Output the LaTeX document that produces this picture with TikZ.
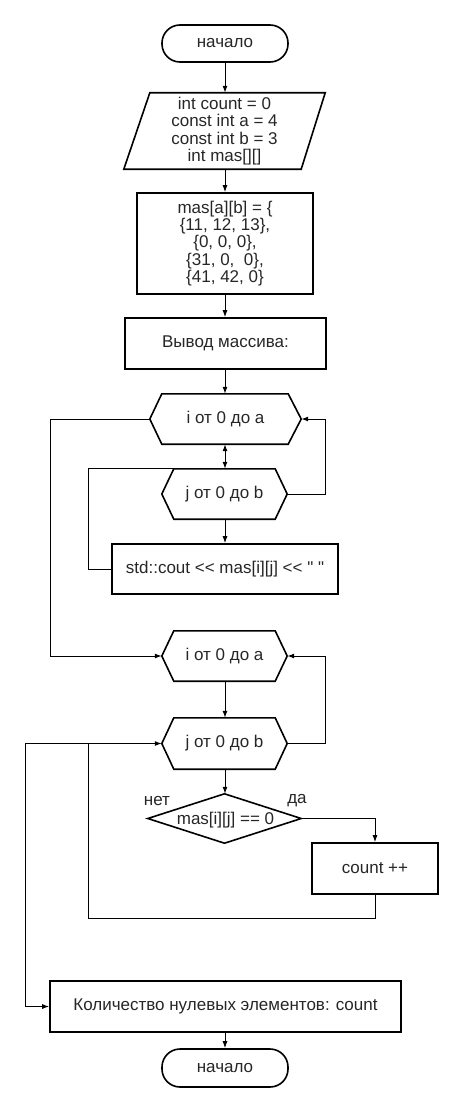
\documentclass[tikz,border=0pt]{standalone}
\usepackage{fontspec}
\setmainfont{Liberation Sans}[Ligatures=TeXOff]
\usetikzlibrary{calc,arrows.meta}
\begin{document}
\begin{tikzpicture}[x=1pt,y=-1pt,
  txt/.style={font=\fontsize{17}{17.3}\selectfont, text=black!85},
  box/.style={draw, line width=1.6pt, inner sep=0pt, align=center, txt},
  ghost/.style={draw=none, inner sep=0pt, align=center, txt},
  shp/.style={draw, line width=1.6pt, line join=miter},
  term/.style={box, rounded corners=18pt},
  conn/.style={line width=1pt},
  arr/.style={conn, -{Latex[length=7pt,width=5pt]}},
  darr/.style={conn, {Latex[length=7pt,width=5pt]}-{Latex[length=7pt,width=5pt]}}
]
\useasboundingbox (0,0) rectangle (463,1113);

% nodes
\node[term, minimum width=126pt, minimum height=37pt] (start) at (225,43.5) {начало};
\node[ghost, minimum width=201pt, minimum height=76pt] (par) at (224.5,131) {int count = 0\\const int a = 4\\const int b = 3\\int mas[][]};
\draw[shp] ($(par.north west)+(26,0)$) -- (par.north east) -- ($(par.south east)+(-24,0)$) -- (par.south west) -- cycle;
\node[box, minimum width=176pt, minimum height=101pt] (init) at (225,243.5) {mas[a][b] = \{\\\{11, 12, 13\},\\\{0, 0, 0\},\\\{31, 0,\ \ 0\},\\\{41, 42, 0\}};
\node[box, minimum width=201pt, minimum height=51pt] (outp) at (225.5,343.5) {Вывод массива:};

\node[ghost, minimum width=151pt, minimum height=50pt] (h1) at (225.5,419) {i от 0 до a};
\draw[shp] ($(h1.north west)+(12,0)$) -- ($(h1.north east)+(-13,0)$) -- (h1.east) -- ($(h1.south east)+(-13,0)$) -- ($(h1.south west)+(12,0)$) -- (h1.west) -- cycle;
\node[ghost, minimum width=125pt, minimum height=50pt] (h2) at (224.5,494) {j от 0 до b};
\draw[shp] ($(h2.north west)+(12,0)$) -- ($(h2.north east)+(-12,0)$) -- (h2.east) -- ($(h2.south east)+(-12,0)$) -- ($(h2.south west)+(12,0)$) -- (h2.west) -- cycle;
\node[box, minimum width=226pt, minimum height=50pt] (cout) at (225,569) {std::cout << mas[i][j] << " "};

\node[ghost, minimum width=125pt, minimum height=50pt] (h3) at (224.5,656) {i от 0 до a};
\draw[shp] ($(h3.north west)+(12,0)$) -- ($(h3.north east)+(-12,0)$) -- (h3.east) -- ($(h3.south east)+(-12,0)$) -- ($(h3.south west)+(12,0)$) -- (h3.west) -- cycle;
\node[ghost, minimum width=125pt, minimum height=51pt] (h4) at (224.5,743.5) {j от 0 до b};
\draw[shp] ($(h4.north west)+(12,0)$) -- ($(h4.north east)+(-12,0)$) -- (h4.east) -- ($(h4.south east)+(-12,0)$) -- ($(h4.south west)+(12,0)$) -- (h4.west) -- cycle;

\node[ghost, minimum width=153pt, minimum height=49pt] (dia) at (224.5,818.5) {};
\draw[shp] (dia.north) -- (dia.east) -- (dia.south) -- (dia.west) -- cycle;
\node[txt, inner sep=0pt] (diat) at (225.5,820) {mas[i][j] == 0};
\node[txt, inner sep=0pt] (no) at (157,801) {нет};
\node[txt, inner sep=0pt] (yes) at (297,801) {да};
\node[box, minimum width=126pt, minimum height=51pt] (cnt) at (375,868.5) {count ++};

\node[box, minimum width=351pt, minimum height=51pt] (fin) at (225.5,1006.5) {Количество нулевых элементов: count};
\node[term, minimum width=126pt, minimum height=38pt] (end) at (225,1068) {начало};

% helper coordinates
\coordinate (r1) at (325,0);
\coordinate (l1) at (50,0);
\coordinate (l2) at (88,0);
\coordinate (l3) at (25,0);
\coordinate (b1) at (0,918);
\coordinate (h2tl) at ($(h2.north west)+(12,0)$);

% connectors
\draw[arr] (start.south) -- (start.south |- par.north);
\draw[arr] (start.south |- par.south) -- (start.south |- init.north);
\draw[arr] (init.south -| start.south) -- (start.south |- outp.north);
\draw[arr] (outp.south -| start.south) -- (start.south |- h1.north);
\draw[darr] (start.south |- h1.south) -- (start.south |- h2.north);
\draw[arr] (h2.east) -- (h2.east -| r1) -- (h1.east -| r1) -- (h1.east);
\draw[arr] (start.south |- h2.south) -- (start.south |- cout.north);
\draw[conn] (cout.west) -- (cout.west -| l2) -- (h2tl -| l2) -- (h2tl);
\draw[arr] (h1.west) -- (h1.west -| l1) -- (h3.west -| l1) -- (h3.west);

\draw[arr] (start.south |- h3.south) -- (start.south |- h4.north);
\draw[arr] (h4.east) -- (h4.east -| r1) -- (h3.east -| r1) -- (h3.east);
\draw[arr] (start.south |- h4.south) -- (start.south |- dia.north);
\draw[arr] (dia.east) -| (cnt.north);
\draw[arr] (cnt.south) -- (cnt.south |- b1) -- (b1 -| l2) -- (h4.west -| l2) -- (h4.west);
\draw[arr] (h4.west -| l2) -- (h4.west -| l3) -- (fin.west -| l3) -- (fin.west);
\draw[arr] (start.south |- fin.south) -- (start.south |- end.north);
\end{tikzpicture}
\end{document}
